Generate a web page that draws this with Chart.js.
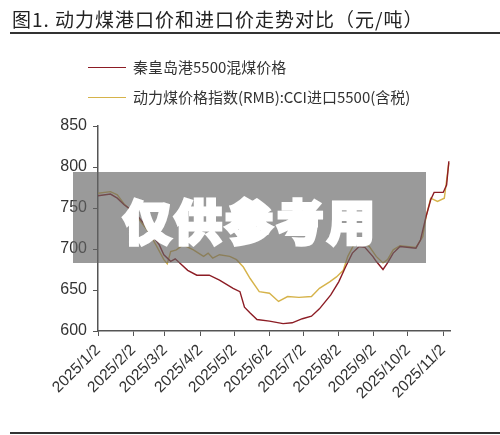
<!DOCTYPE html>
<html>
<head>
<meta charset="utf-8">
<script src="https://cdn.jsdelivr.net/npm/chart.js@4.4.1/dist/chart.umd.min.js"></script>
<style>
  body { margin:0; background:#fff; }
  #wrap { position:relative; width:500px; height:435px; overflow:hidden; font-family:"Noto Sans CJK SC","Noto Sans",sans-serif; }
  #title { position:absolute; left:12px; top:5px; font-size:19px; color:#222; white-space:nowrap; letter-spacing:1px; }
  .rule { position:absolute; left:10px; width:490px; height:2px; background:#333; }
  .leg { position:absolute; left:88px; font-size:15px; color:#333; white-space:nowrap; }
  .leg i { display:inline-block; width:38px; height:0; border-top:1.5px solid; vertical-align:middle; margin-right:7px; position:relative; top:-1px; }
  #mark { position:absolute; left:73px; top:172px; width:353px; height:91px; background:rgba(100,100,100,0.65); }
  #mark span { position:absolute; left:50px; top:12px; font-size:48px; font-weight:900; color:#fff; letter-spacing:3px; -webkit-text-stroke:3px #fff; white-space:nowrap; }
  canvas { position:absolute; left:0; top:0; }
</style>
</head>
<body>
<div id="wrap">
  <canvas id="myChart" width="500" height="435"></canvas>
  <div id="title">图1. 动力煤港口价和进口价走势对比（元/吨）</div>
  <div class="rule" style="top:32px"></div>
  <div class="leg" style="top:56px"><i style="border-color:#8c1c24"></i>秦皇岛港5500混煤价格</div>
  <div class="leg" style="top:86px"><i style="border-color:#d6b34a"></i>动力煤价格指数(RMB):CCI进口5500(含税)</div>
  <div id="mark"><span>仅供参考用</span></div>
  <div class="rule" style="top:432px"></div>
</div>
<script>
var tickLabels = ['2025/1/2','2025/2/2','2025/3/2','2025/4/2','2025/5/2','2025/6/2','2025/7/2','2025/8/2','2025/9/2','2025/10/2','2025/11/2'];

// 秦皇岛港5500混煤价格
var portDates = ['2025/1/2','2025/1/13','2025/1/19','2025/1/25','2025/2/3','2025/2/12','2025/2/18','2025/2/25','2025/3/1','2025/3/7','2025/3/11','2025/3/15','2025/3/22','2025/3/30','2025/4/10','2025/4/19','2025/5/1','2025/5/7','2025/5/11','2025/5/16','2025/5/22','2025/6/2','2025/6/14','2025/6/22','2025/7/1','2025/7/9','2025/7/16','2025/7/26','2025/8/2','2025/8/8','2025/8/14','2025/8/20','2025/8/25','2025/9/1','2025/9/4','2025/9/10','2025/9/14','2025/9/19','2025/9/25','2025/10/9','2025/10/13','2025/10/18','2025/10/22','2025/10/25','2025/11/2','2025/11/5','2025/11/7'];
var portPrices = [765,767,762,754,745,730,718,705,693,685,688,683,674,668,668,662,652,648,629,622,614,612,609,610,615,618,627,644,660,678,695,703,702,691,685,675,683,695,703,701,711,740,760,769,769,778,807];

// 动力煤价格指数(RMB):CCI进口5500(含税)
var importDates = ['2025/1/2','2025/1/13','2025/1/19','2025/1/25','2025/2/5','2025/2/15','2025/2/22','2025/3/1','2025/3/4','2025/3/7','2025/3/12','2025/3/18','2025/3/27','2025/4/5','2025/4/9','2025/4/13','2025/4/19','2025/4/28','2025/5/4','2025/5/10','2025/5/16','2025/5/24','2025/6/2','2025/6/10','2025/6/18','2025/6/28','2025/7/9','2025/7/16','2025/7/25','2025/7/31','2025/8/6','2025/8/10','2025/8/16','2025/8/22','2025/8/29','2025/9/4','2025/9/10','2025/9/14','2025/9/19','2025/9/25','2025/10/9','2025/10/15','2025/10/18','2025/10/22','2025/10/28','2025/11/3','2025/11/7'];
var importPrices = [768,770,766,755,740,722,705,687,682,697,699,705,699,691,695,689,693,691,687,678,664,648,646,636,642,641,642,652,660,666,674,691,707,709,703,691,683,687,699,704,702,715,740,762,758,762,805];

function dayOf(s){
  var p = s.split('/');
  return (Date.UTC(+p[0], +p[1]-1, +p[2]) - Date.UTC(2025,0,2)) / 86400000;
}
function pts(ds, vs){
  var out = [];
  for (var i = 0; i < ds.length; i++) out.push({x: dayOf(ds[i]), y: vs[i]});
  return out;
}
var tickDays = tickLabels.map(dayOf);

var ctx = document.getElementById('myChart').getContext('2d');
var myChart = new Chart(ctx, {
  type: 'line',
  data: {
    datasets: [
      { label: '秦皇岛港5500混煤价格', data: pts(portDates, portPrices), borderColor: '#8c1c24', borderWidth: 1.4, pointRadius: 0, tension: 0 },
      { label: '动力煤价格指数(RMB):CCI进口5500(含税)', data: pts(importDates, importPrices), borderColor: '#d6b34a', borderWidth: 1.4, pointRadius: 0, tension: 0 }
    ]
  },
  options: {
    responsive: false,
    animation: false,
    devicePixelRatio: 1,
    layout: { padding: { top: 126, right: 50, left: 0, bottom: 0 } },
    plugins: { legend: { display: false }, tooltip: { enabled: false } },
    scales: {
      x: {
        type: 'linear', min: 0, max: 310,
        afterBuildTicks: function(s){ s.ticks = tickDays.map(function(v){ return {value: v}; }); },
        afterFit: function(s){ s.height = 104; },
        grid: { drawOnChartArea: false, tickLength: 5, color: '#555' },
        border: { color: '#555', width: 1.5 },
        ticks: {
          autoSkip: false, minRotation: 45, maxRotation: 45, color: '#333', padding: 5,
          font: { family: 'Liberation Sans', size: 15.5 },
          callback: function(v){ var i = tickDays.indexOf(v); return i >= 0 ? tickLabels[i] : ''; }
        }
      },
      y: {
        min: 600, max: 850,
        afterFit: function(s){ s.width = 98; },
        grid: { drawOnChartArea: false, tickLength: 5, color: '#555' },
        border: { color: '#555', width: 1.5 },
        ticks: { stepSize: 50, color: '#333', padding: 6, font: { family: 'Liberation Sans', size: 16 } }
      }
    }
  }
});
</script>
</body>
</html>
